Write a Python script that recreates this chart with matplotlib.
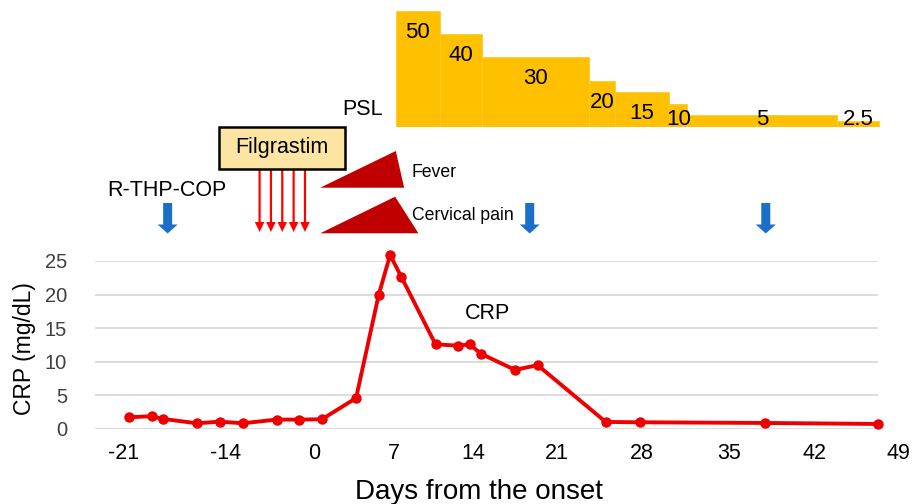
import numpy as np
import matplotlib
matplotlib.use("Agg")
import matplotlib.pyplot as plt
from matplotlib.patches import FancyArrow, Polygon, Rectangle

plt.rcParams["font.family"] = ["Liberation Sans", "DejaVu Sans"]

# CRP course (days from onset, mg/dL)
crp_days = [-16, -14, -13, -10, -8, -6, -3, -1, 1, 4, 6, 7, 8, 11, 13, 14, 15, 18, 20, 26, 29, 40, 50]
crp_vals = [1.75, 1.9, 1.5, 0.85, 1.1, 0.85, 1.4, 1.4, 1.45, 4.6, 20.0, 25.9, 22.6, 12.6,
            12.4, 12.6, 11.2, 8.8, 9.5, 1.05, 1.0, 0.9, 0.75]

# tick labels as printed in the figure, and where they sit (days)
tick_labels = ["-21", "-14", "0", "7", "14", "21", "28", "35", "42", "49"]
tick_pos = [-16.5, -7.5, 0.3, 7.3, 14.3, 21.7, 29.2, 36.9, 44.4, 51.8]
crp_ticks = [0, 5, 10, 15, 20, 25]

# PSL taper (mg) and the day boundaries of each step
psl_dose = [50, 40, 30, 20, 15, 10, 5, 2.5]
psl_edges = [7.5, 11.4, 15.1, 24.5, 26.8, 31.6, 33.2, 46.4, 50.1]

# events
chemo_days = [-12.6, 19.3, 40.1]
filgrastim_days = [-4.5, -3.5, -2.5, -1.5, -0.5]

W, H = 922, 504
fig = plt.figure(figsize=(W / 100, H / 100), dpi=100)

x0_day, x1_day, grid_end = -19, 52.2, 50
px = 11.35  # pixels per day
L = 95 / W
AW = (x1_day - x0_day) * px / W

ax = fig.add_axes([L, 1 - 429 / H, AW, 168 / H])
ax.hlines(crp_ticks, x0_day, grid_end, color="#D9D9D9", lw=1.3, zorder=0)
ax.plot(crp_days, crp_vals, color="#EE0000", lw=2.8, marker="o", ms=6.5,
        clip_on=False, zorder=3)
ax.set_ylim(0, 25)
ax.set_yticks(crp_ticks)
for s in ax.spines.values():
    s.set_visible(False)
ax.tick_params(axis="x", length=0, pad=10, labelsize=15.5, colors="black")
ax.tick_params(axis="y", length=0, pad=20, labelsize=14.5, labelcolor="#404040")
ax.set_xlabel("Days from the onset", fontsize=20)
ax.set_ylabel("CRP (mg/dL)", fontsize=16.5)
ax.text(15.6, 17.2, "CRP", fontsize=15.5, ha="center", va="center")

# PSL step bars
pax = fig.add_axes([L, 1 - 126.7 / H, AW, 115.4 / H], sharex=ax)
pax.axis("off")
pax.set_ylim(0, 50)
widths = np.diff(psl_edges)
pax.bar(psl_edges[:-1], psl_dose, width=widths, align="edge", color="#FFC000",
        edgecolor="#FFCA2C", lw=0.6)
for x0, w, d in zip(psl_edges[:-1], widths, psl_dose):
    pax.text(x0 + w / 2, max(d - 9.3, 3.0), f"{d:g}", fontsize=16,
             ha="center", va="center")

# annotation layer: x in days, y in figure pixels (top down)
ann = fig.add_axes([L, 0, AW, 1], sharex=ax)
ann.axis("off")
ann.set_ylim(H, 0)

ann.text(4.6, 109.5, "PSL", fontsize=15.5, ha="center", va="center")

ann.add_patch(Rectangle((-8.1, 127.3), 11.1, 42, facecolor="#FCE5A2",
                        edgecolor="black", lw=1.8, zorder=4))
ann.text(-2.55, 148, "Filgrastim", fontsize=15.5, ha="center", va="center", zorder=5)
for d in filgrastim_days:
    ann.add_patch(FancyArrow(d, 169.5, 0, 62.5, width=2.2 / px, head_width=9.5 / px,
                             head_length=10, length_includes_head=True,
                             color="#FF0000", lw=0, zorder=3))

ann.text(-12.7, 190, "R-THP-COP", fontsize=15.5, ha="center", va="center")
for d in chemo_days:
    ann.add_patch(FancyArrow(d, 203, 0, 30.5, width=9 / px, head_width=20 / px,
                             head_length=9, length_includes_head=True,
                             color="#1A6FC9", lw=0))

ann.add_patch(Polygon([(0.84, 187.7), (7.5, 151), (8.24, 187.7)], closed=True,
                      facecolor="#C00000", edgecolor="none"))
ann.add_patch(Polygon([(0.84, 233.3), (7.44, 196.7), (9.5, 233.3)], closed=True,
                      facecolor="#C00000", edgecolor="none"))
ann.text(8.9, 172.5, "Fever", fontsize=12.7, ha="left", va="center")
ann.text(8.9, 216, "Cervical pain", fontsize=12.7, ha="left", va="center")

# shared x: fix ticks then limits once everything is drawn
ax.set_xticks(tick_pos)
ax.set_xticklabels(tick_labels)
ax.set_xlim(x0_day, x1_day)

# label positions in axes fraction, measured in pixels from the axes origin
aw_px = AW * W
ax.xaxis.set_label_coords((478.8 - 95) / aw_px, -0.30)
ax.yaxis.set_label_coords((36 - 95) / aw_px, 0.48)

fig.savefig("out.png", dpi=100)
